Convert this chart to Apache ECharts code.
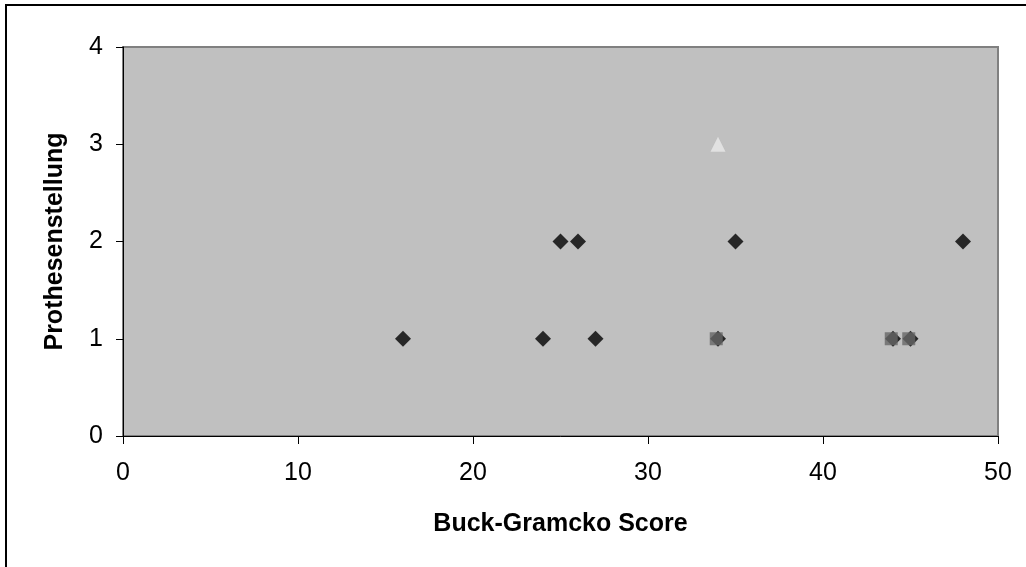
<!DOCTYPE html>
<html>
<head>
<meta charset="utf-8">
<script src="https://cdn.jsdelivr.net/npm/echarts@6/dist/echarts.min.js"></script>
<style>html,body{margin:0;padding:0;background:#fff;}#c{width:1026px;height:567px;}</style>
</head>
<body>
<div id="c"></div>
<script>
var diamondData = [[16,1],[24,1],[27,1],[25,2],[26,2],[35,2],[48,2],[34,1],[44,1],[45,1]];
var squareData = [[33.9,1],[43.9,1],[44.9,1]];
var triangleData = [[34,3]];
var xTicks = [0,10,20,30,40,50];
var yTicks = [0,1,2,3,4];
var xTitle = 'Buck-Gramcko Score';
var yTitle = 'Prothesenstellung';

var chart = echarts.init(document.getElementById('c'));
var font = 'Liberation Sans, Arial, sans-serif';
chart.setOption({
  animation: false,
  graphic: [{
    type: 'rect', z: -10,
    shape: {x: 6, y: 5, width: 1200, height: 700},
    style: {fill: '#fff', stroke: '#000', lineWidth: 2}
  }],
  grid: {left: 123, top: 47, right: 28, bottom: 131, show: true, backgroundColor: '#C0C0C0', borderColor: '#808080', borderWidth: 2},
  xAxis: {
    type: 'value', min: xTicks[0], max: xTicks[xTicks.length-1], interval: 10,
    name: xTitle, nameLocation: 'middle', nameGap: 76,
    nameTextStyle: {fontFamily: font, fontSize: 25, fontWeight: 'bold', color: '#000'},
    axisLine: {show: true, onZero: false, lineStyle: {color: '#000', width: 1}},
    axisTick: {show: true, inside: false, length: 8, lineStyle: {color: '#000'}},
    axisLabel: {margin: 25, fontFamily: font, fontSize: 25, color: '#000'},
    splitLine: {show: false}
  },
  yAxis: {
    type: 'value', min: yTicks[0], max: yTicks[yTicks.length-1], interval: 1,
    name: yTitle, nameLocation: 'middle', nameGap: 55, nameRotate: 90,
    nameTextStyle: {fontFamily: font, fontSize: 25, fontWeight: 'bold', color: '#000'},
    axisLine: {show: true, onZero: false, lineStyle: {color: '#000', width: 1}},
    axisTick: {show: true, inside: false, length: 7, lineStyle: {color: '#000'}},
    axisLabel: {margin: 20, fontFamily: font, fontSize: 25, color: '#000'},
    splitLine: {show: false}
  },
  series: [
    {type: 'scatter', data: diamondData, symbol: 'diamond', symbolSize: [16,16], itemStyle: {color: '#000'}, z: 2},
    {type: 'scatter', data: squareData, symbol: 'rect', symbolSize: [13,13], itemStyle: {color: '#666666'}, z: 3},
    {type: 'scatter', data: triangleData, symbol: 'triangle', symbolSize: [15,15], itemStyle: {color: '#E8E8E8'}, z: 4}
  ]
});
</script>
</body>
</html>
